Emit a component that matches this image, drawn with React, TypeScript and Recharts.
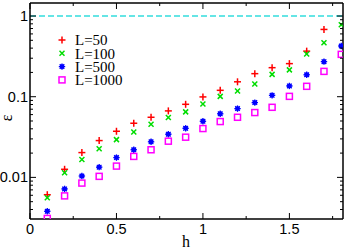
import { ScatterChart, Scatter, XAxis, YAxis, ReferenceLine } from "recharts";

const H = [0.1, 0.2, 0.3, 0.4, 0.5, 0.6, 0.7, 0.8, 0.9, 1.0, 1.1, 1.2, 1.3, 1.4, 1.5, 1.6, 1.7, 1.8];
// L=50 has no visible point at h=1.8 (off the top)
const L50 = [0.0061, 0.0126, 0.0203, 0.0286, 0.0373, 0.0469, 0.0556, 0.0667, 0.0805, 0.0994, 0.12, 0.153, 0.193, 0.229, 0.257, 0.367, 0.682];
const L100 = [0.0056, 0.0114, 0.0167, 0.0226, 0.0294, 0.0365, 0.0455, 0.0551, 0.0649, 0.0814, 0.101, 0.118, 0.144, 0.189, 0.215, 0.339, 0.467, 0.78];
const L500 = [0.0038, 0.0072, 0.0104, 0.0134, 0.0176, 0.022, 0.0276, 0.0343, 0.0406, 0.0496, 0.0614, 0.0712, 0.0845, 0.104, 0.136, 0.187, 0.272, 0.425];
const L1000 = [0.0031, 0.0059, 0.0085, 0.0103, 0.0138, 0.0182, 0.022, 0.0281, 0.0315, 0.0403, 0.0492, 0.0556, 0.0636, 0.0739, 0.101, 0.1345, 0.206, 0.335];

const X_MAJOR = [0, 0.5, 1, 1.5];
const X_MINOR = [0.25, 0.75, 1.25, 1.75];
const Y_MAJOR = [0.01, 0.1, 1];
const Y_LABELS = ["0.01", "0.1", "1"];
const Y_MINOR = [0.004, 0.005, 0.006, 0.007, 0.008, 0.009, 0.02, 0.03, 0.04, 0.05, 0.06, 0.07, 0.08, 0.09, 0.2, 0.3, 0.4, 0.5, 0.6, 0.7, 0.8, 0.9];

const toPoints = (vals: number[]) => vals.map((v, i) => ({ h: H[i], v }));

const SANS = "'Liberation Sans', Arial, sans-serif";
const SERIF = "'Liberation Serif', 'Times New Roman', serif";

function Plus({ cx, cy }: any) {
  return (
    <g stroke="#ff0000" strokeWidth={1.5}>
      <line x1={cx - 3.5} x2={cx + 3.5} y1={cy} y2={cy} />
      <line x1={cx} x2={cx} y1={cy - 3.5} y2={cy + 3.5} />
    </g>
  );
}
function Cross({ cx, cy }: any) {
  return (
    <g stroke="#00dd00" strokeWidth={1.5}>
      <line x1={cx - 2.5} x2={cx + 2.5} y1={cy - 2.5} y2={cy + 2.5} />
      <line x1={cx - 2.5} x2={cx + 2.5} y1={cy + 2.5} y2={cy - 2.5} />
    </g>
  );
}
function Star({ cx, cy }: any) {
  return (
    <g stroke="#0000ff" strokeWidth={1.3}>
      <circle cx={cx} cy={cy} r={1.8} fill="#0000ff" />
      <line x1={cx - 3.2} x2={cx + 3.2} y1={cy} y2={cy} />
      <line x1={cx} x2={cx} y1={cy - 3.2} y2={cy + 3.2} />
      <line x1={cx - 2.3} x2={cx + 2.3} y1={cy - 2.3} y2={cy + 2.3} />
      <line x1={cx - 2.3} x2={cx + 2.3} y1={cy + 2.3} y2={cy - 2.3} />
    </g>
  );
}
function Box({ cx, cy }: any) {
  return <rect x={cx - 3} y={cy - 3} width={6} height={6} fill="none" stroke="#ff00ff" strokeWidth={1.5} />;
}

const SERIES = [
  { name: "L=50", data: L50, Shape: Plus },
  { name: "L=100", data: L100, Shape: Cross },
  { name: "L=500", data: L500, Shape: Star },
  { name: "L=1000", data: L1000, Shape: Box },
];

const xTick = (side: "bottom" | "top") => (props: any) => {
  const { x, y, payload } = props;
  const major = X_MAJOR.includes(payload.value);
  const len = major ? 6 : 3;
  const dir = side === "bottom" ? -1 : 1;
  return (
    <g>
      <line x1={x} x2={x} y1={y} y2={y + dir * len} stroke="#000" strokeWidth={1} />
      {side === "bottom" && major && (
        <text x={x} y={y + 15} textAnchor="middle" fontFamily={SANS} fontSize={14.5} fill="#000">
          {String(payload.value)}
        </text>
      )}
    </g>
  );
};

const yTick = (side: "left" | "right") => (props: any) => {
  const { x, y, payload } = props;
  const idx = Y_MAJOR.indexOf(payload.value);
  const major = idx >= 0;
  const len = major ? 6 : 3;
  const dir = side === "left" ? 1 : -1;
  return (
    <g>
      <line x1={x} x2={x + dir * len} y1={y} y2={y} stroke="#000" strokeWidth={1} />
      {side === "left" && major && (
        <text x={x - 2} y={y} dy="0.35em" textAnchor="end" fontFamily={SANS} fontSize={14.5} fill="#000">
          {Y_LABELS[idx]}
        </text>
      )}
    </g>
  );
};

export default function App() {
  const xTicks = [...X_MAJOR, ...X_MINOR];
  const yTicks = [...Y_MINOR, ...Y_MAJOR];
  const axisLine = { stroke: "#000", strokeWidth: 1.5 };
  return (
    <div style={{ position: "absolute", left: 0, top: 0, width: 346, height: 250, background: "#fff" }}>
      <ScatterChart width={346} height={250} margin={{ top: 0, right: 0, left: 0, bottom: 0 }}>
        <XAxis
          xAxisId="b"
          type="number"
          dataKey="h"
          domain={[0, 1.81]}
          allowDataOverflow
          ticks={xTicks}
          interval={0}
          height={31}
          tickSize={0}
          tickMargin={0}
          tick={xTick("bottom")}
          axisLine={axisLine}
          tickLine={false}
        />
        <XAxis
          xAxisId="t"
          orientation="top"
          type="number"
          dataKey="h"
          domain={[0, 1.81]}
          allowDataOverflow
          ticks={xTicks}
          interval={0}
          height={3}
          tickSize={0}
          tickMargin={0}
          tick={xTick("top")}
          axisLine={axisLine}
          tickLine={false}
        />
        <YAxis
          yAxisId="l"
          type="number"
          dataKey="v"
          scale="log"
          domain={[0.00305, 1.45]}
          allowDataOverflow
          ticks={yTicks}
          interval={0}
          width={30}
          tickSize={0}
          tickMargin={0}
          tick={yTick("left")}
          axisLine={axisLine}
          tickLine={false}
        />
        <YAxis
          yAxisId="r"
          orientation="right"
          type="number"
          dataKey="v"
          scale="log"
          domain={[0.00305, 1.45]}
          allowDataOverflow
          ticks={yTicks}
          interval={0}
          width={3}
          tickSize={0}
          tickMargin={0}
          tick={yTick("right")}
          axisLine={axisLine}
          tickLine={false}
        />
        <ReferenceLine xAxisId="b" yAxisId="l" y={1} stroke="#33dddd" strokeWidth={1.5} strokeDasharray="6 3" />
        {SERIES.map((s) => (
          <Scatter
            key={s.name}
            name={s.name}
            xAxisId="b"
            yAxisId="l"
            data={toPoints(s.data)}
            shape={(p: any) => <s.Shape cx={p.cx} cy={p.cy} />}
            isAnimationActive={false}
          />
        ))}
      </ScatterChart>

      {/* axis titles */}
      <div style={{ position: "absolute", left: 182, top: 234, fontFamily: SERIF, fontSize: 16, lineHeight: "16px" }}>h</div>
      <svg style={{ position: "absolute", left: 0, top: 100 }} width={18} height={36}>
        <text x={12} y={18} transform="rotate(-90 12 18)" textAnchor="middle" fontFamily={SERIF} fontSize={16}>
          ε
        </text>
      </svg>

      {/* legend */}
      <svg style={{ position: "absolute", left: 52, top: 32 }} width={80} height={58}>
        {SERIES.map((s, i) => {
          const cy = 8 + i * 13.3;
          return (
            <g key={s.name}>
              <s.Shape cx={10} cy={cy} />
              <text x={23} y={cy} dy="0.35em" fontFamily={SERIF} fontSize={15} fill="#000">
                {s.name}
              </text>
            </g>
          );
        })}
      </svg>
    </div>
  );
}
